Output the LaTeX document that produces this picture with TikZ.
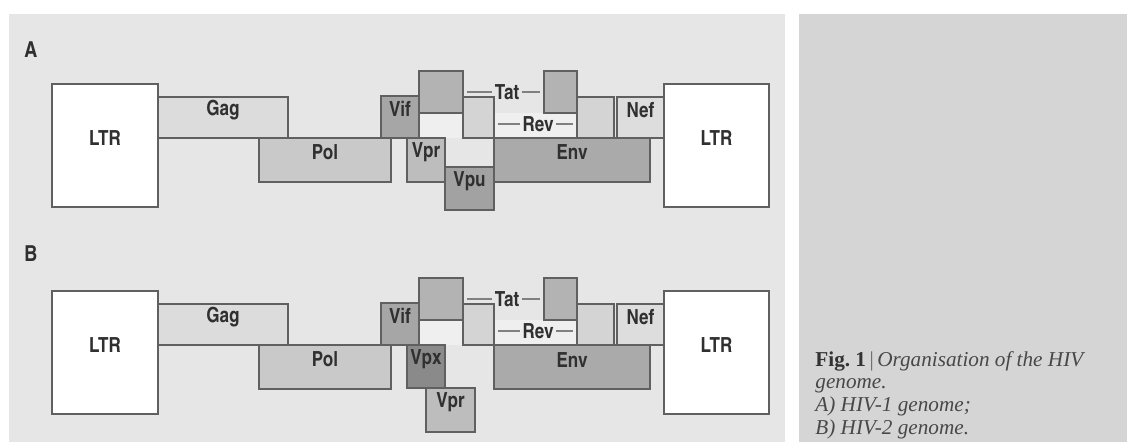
\documentclass[tikz,border=0pt]{standalone}
\usepackage{fontspec}
\setmainfont{Liberation Serif}
\newfontfamily\genefont{texgyreheroscn-bold.otf}
\usepackage{xcolor}
\usepackage{tikz}
\usetikzlibrary{positioning, fit}

\definecolor{panelgray}{HTML}{E6E6E6}
\definecolor{sidegray}{HTML}{D5D5D5}
\definecolor{intronfill}{HTML}{EFEFEF}
\definecolor{boxline}{HTML}{606060}
\definecolor{genetext}{HTML}{303030}
\definecolor{gagfill}{HTML}{DCDCDC}
\definecolor{polfill}{HTML}{C9C9C9}
\definecolor{viffill}{HTML}{A6A6A6}
\definecolor{tatfill}{HTML}{B3B3B3}
\definecolor{revfill}{HTML}{D4D4D4}
\definecolor{vprfill}{HTML}{BDBDBD}
\definecolor{vpufill}{HTML}{A2A2A2}
\definecolor{vpxfill}{HTML}{8A8A8A}
\definecolor{envfill}{HTML}{AAAAAA}
\definecolor{neffill}{HTML}{DDDDDD}
\definecolor{captext}{HTML}{484848}

\tikzset{
  genebox/.style={draw=boxline, line width=0.9pt, inner sep=0pt,
    text height=7.3pt, text depth=0pt, text=genetext,
    font=\genefont\fontsize{10.4}{10.4}\selectfont},
  splicelabel/.style={inner sep=1pt, text height=7.3pt, text depth=0pt, text=genetext,
    font=\genefont\fontsize{10.4}{10.4}\selectfont},
  splice/.style={draw=boxline!80, line width=0.8pt, shorten <=1.5pt},
  panellabel/.style={inner sep=0pt, text=genetext,
    font=\genefont\fontsize{11}{11}\selectfont},
  figcaption/.style={inner sep=0pt, align=left, text=captext,
    font=\fontsize{10.6}{11.3}\selectfont}
}

% parts shared by both genomes, #1 = name prefix
\newcommand{\hivcore}[1]{%
  \fill[intronfill] (419,113) rectangle (577,138);
  \node[genebox, fill=white, fit={(52,84) (158,207)}] (#1ltrl) {LTR};
  \node[genebox, fill=gagfill, fit={(158,97) (288,138)}] (#1gag) {Gag};
  \node[genebox, fill=polfill, fit={(259,138) (391,182)}] (#1pol) {Pol};
  \node[genebox, fill=viffill, fit={(381,96) (419,138)}] (#1vif) {Vif};
  \node[genebox, fill=tatfill, fit={(419,71) (463,113)}] (#1tatone) {};
  \node[genebox, fill=revfill, fit={(463,97) (494,138)}] (#1revone) {};
  \node[genebox, fill=envfill, fit={(494,138) (650,182)}] (#1env) {Env};
  \node[genebox, fill=tatfill, fit={(544,71) (577,113)}] (#1tattwo) {};
  \node[genebox, fill=revfill, fit={(577,97) (614,138)}] (#1revtwo) {};
  \node[genebox, fill=neffill, fit={(617,97) (664,138)}] (#1nef) {Nef};
  \node[genebox, fill=white, fit={(664,84) (769,207)}] (#1ltrr) {LTR};
  \node[splicelabel] (#1tat) at (507,92) {Tat};
  \node[splicelabel] (#1rev) at (538,124) {Rev};
  \draw[splice] (#1tatone.east |- #1tat) -- (#1tat);
  \draw[splice] (#1tattwo.west |- #1tat) -- (#1tat);
  \draw[splice] (#1revone.east |- #1rev) -- (#1rev);
  \draw[splice] (#1revtwo.west |- #1rev) -- (#1rev);
}

\begin{document}
\begin{tikzpicture}[x=0.5pt,y=-0.5pt]
\useasboundingbox (0,0) rectangle (1127,442);
\fill[white] (0,0) rectangle (1127,442);
\fill[panelgray] (9,14) rectangle (785,442);
\fill[sidegray] (799,14) rectangle (1127,442);

% A) HIV-1
\begin{scope}
  \node[panellabel] (alab) at (31,50) {A};
  \hivcore{a}
  \node[genebox, fill=vprfill, fit={(407,138) (445,182)}] (avpr) {Vpr};
  \node[genebox, fill=vpufill, fit={(445,167) (494,210)}] (avpu) {Vpu};
\end{scope}

% B) HIV-2
\begin{scope}[shift={(0,207)}]
  \node[panellabel] (blab) at (31,47) {B};
  \hivcore{b}
  \node[genebox, fill=vpxfill, fit={(407,138) (445,181)}] (bvpx) {Vpx};
  \node[genebox, fill=vprfill, fit={(426,181) (475,225)}] (bvpr) {Vpr};
\end{scope}

\node[figcaption, anchor=north west] (figcap) at (815,351)
  {{\color{black!80}\bfseries Fig.~1}\,{\color{black!60}|}\,\itshape Organisation of the HIV\\
   \itshape genome.\\
   \itshape A) HIV-1 genome;\\
   \itshape B) HIV-2 genome.};
\end{tikzpicture}
\end{document}
